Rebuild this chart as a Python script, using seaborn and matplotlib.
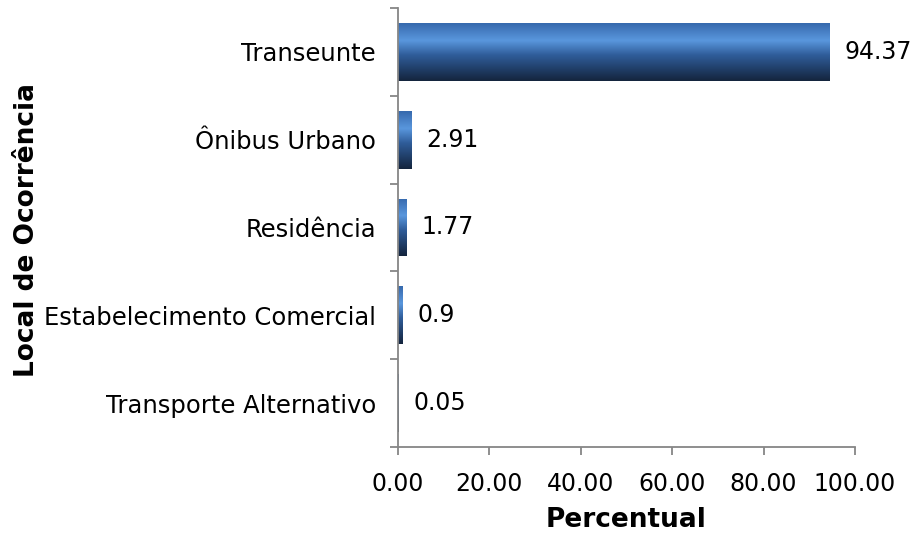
import numpy as np
import pandas as pd
import seaborn as sns
import matplotlib.pyplot as plt
from matplotlib.colors import LinearSegmentedColormap
from matplotlib.ticker import FixedLocator, FuncFormatter

# data
locais = ["Transeunte", "Ônibus Urbano", "Residência",
          "Estabelecimento Comercial", "Transporte Alternativo"]
percentual = [94.37, 2.91, 1.77, 0.9, 0.05]

df = pd.DataFrame({"local": locais, "pct": percentual})

sns.set_style("white")
plt.rcParams["font.family"] = ["DejaVu Sans"]
plt.rcParams["text.color"] = "black"
plt.rcParams["axes.labelcolor"] = "black"
plt.rcParams["xtick.labelcolor"] = "black"
plt.rcParams["ytick.labelcolor"] = "black"

fig = plt.figure(figsize=(9.16, 5.33), dpi=100)
ax = fig.add_axes([398 / 916, 1 - 447 / 533, 457 / 916, 439 / 533])

sns.barplot(data=df, x="pct", y="local", orient="h", color="#3a6cb0",
            width=0.66, ax=ax)

# excel-like vertical gradient on each bar
grad = LinearSegmentedColormap.from_list("xlbar", [
    (0.00, "#3669ad"), (0.30, "#5a97dd"), (0.55, "#2f5d9a"),
    (0.85, "#1d375c"), (1.00, "#14243d")])
img = np.linspace(0, 1, 256).reshape(-1, 1)
for p in ax.patches:
    x0, y0 = p.get_x(), p.get_y()
    w, h = p.get_width(), p.get_height()
    p.set_facecolor("none")
    p.set_edgecolor("none")
    im = ax.imshow(img, cmap=grad, aspect="auto", interpolation="bicubic",
                   extent=(x0, x0 + w, y0 + h, y0), zorder=2)
    im.set_clip_path(p)

ax.set_xlim(0, 100)
ax.set_ylim(len(locais) - 0.5, -0.5)

for i, v in enumerate(percentual):
    ax.annotate(f"{v:g}", xy=(v, i), xytext=(11, 0), textcoords="offset points",
                va="center", ha="left", fontsize=17, color="black")

ax.set_xticks([0, 20, 40, 60, 80, 100])
ax.xaxis.set_major_formatter(FuncFormatter(lambda v, _: f"{v:.2f}"))
ax.yaxis.set_minor_locator(FixedLocator(np.arange(-0.5, len(locais), 1.0)))

for s in ["top", "right"]:
    ax.spines[s].set_visible(False)
for s in ["left", "bottom"]:
    ax.spines[s].set_color("#868686")
    ax.spines[s].set_linewidth(1.3)

ax.tick_params(axis="y", which="major", length=0, pad=16, labelsize=17.5)
ax.tick_params(axis="y", which="minor", length=6, width=1.3,
               color="#868686", direction="out", left=True)
ax.tick_params(axis="x", which="major", length=6, width=1.3,
               color="#868686", direction="out", bottom=True, pad=12,
               labelsize=17)

ax.set_xlabel("Percentual", fontsize=19, fontweight="bold", labelpad=8)
ax.set_ylabel("Local de Ocorrência", fontsize=19, fontweight="bold")
ax.yaxis.set_label_coords(-(398 - 40) / 457, 0.494)

fig.savefig("out.png", dpi=100)
